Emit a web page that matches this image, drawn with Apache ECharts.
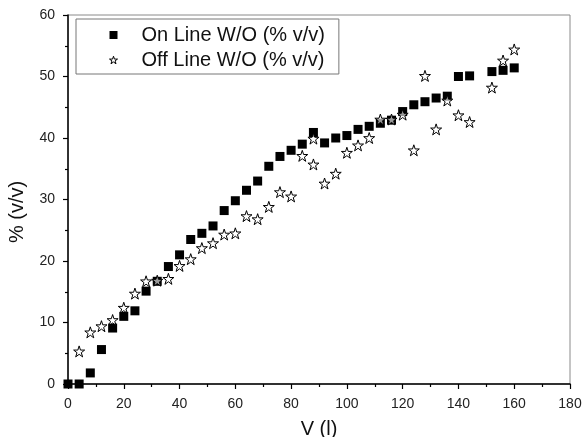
<!DOCTYPE html>
<html>
<head>
<meta charset="utf-8">
<script src="https://cdn.jsdelivr.net/npm/echarts@6/dist/echarts.min.js"></script>
<style>
  html, body { margin: 0; padding: 0; background: #fff; }
  #chart { width: 584px; height: 437px; }
</style>
</head>
<body>
<div id="chart"></div>
<script>
// Volume (l) and water-in-oil fraction (% v/v)
const onLineV = [0, 4, 8, 12, 16, 20, 24, 28, 32, 36, 40, 44, 48, 52, 56, 60, 64, 68, 72, 76, 80, 84, 88, 92, 96, 100, 104, 108, 112, 116, 120, 124, 128, 132, 136, 140, 144, 152, 156, 160];
const onLineWO = [0, 0, 1.8, 5.6, 9.1, 11.0, 11.9, 15.1, 16.7, 19.1, 21.0, 23.5, 24.5, 25.7, 28.2, 29.8, 31.5, 33.0, 35.4, 37.0, 38.0, 39.0, 40.9, 39.2, 40.0, 40.4, 41.4, 41.9, 42.4, 42.9, 44.3, 45.4, 45.9, 46.5, 46.8, 50.0, 50.1, 50.8, 51.0, 51.4];

const offLineV = [4, 8, 12, 16, 20, 24, 28, 32, 36, 40, 44, 48, 52, 56, 60, 64, 68, 72, 76, 80, 84, 88, 88, 92, 96, 100, 104, 108, 112, 116, 120, 124, 128, 132, 136, 140, 144, 152, 156, 160];
const offLineWO = [5.3, 8.4, 9.4, 10.4, 12.4, 14.7, 16.7, 16.8, 17.1, 19.2, 20.3, 22.1, 22.9, 24.3, 24.5, 27.3, 26.8, 28.8, 31.2, 30.5, 37.1, 39.9, 35.7, 32.6, 34.2, 37.6, 38.8, 40.0, 43.0, 43.0, 43.8, 38.0, 50.1, 41.4, 46.1, 43.7, 42.6, 48.2, 52.6, 54.4];

const seriesNames = ['On Line W/O (% v/v)', 'Off Line W/O (% v/v)'];
const xTicks = { min: 0, max: 180, step: 20 };
const yTicks = { min: 0, max: 60, step: 10 };

const STAR = 'path://M50,0 L61.8,35.1 L98.9,35.1 L69.1,57.3 L80.9,92.7 L50,70.9 L19.1,92.7 L30.9,57.3 L1.1,35.1 L38.2,35.1 Z';
const FONT = 'Liberation Sans, Arial, sans-serif';

const pairs = (xs, ys) => xs.map((x, i) => [x, ys[i]]);

const chart = echarts.init(document.getElementById('chart'), null, { renderer: 'canvas' });

const axisCommon = {
  axisLine: { show: true, onZero: false, lineStyle: { color: '#000', width: 1.5 } },
  axisTick: { show: true, inside: false, length: 5, lineStyle: { color: '#000', width: 1.2 } },
  minorTick: { show: true, splitNumber: 2, length: 3, lineStyle: { color: '#000', width: 1.2 } },
  splitLine: { show: false },
  axisLabel: { color: '#222', fontSize: 14, fontFamily: FONT },
  nameTextStyle: { color: '#111', fontSize: 20, fontFamily: FONT }
};

chart.setOption({
  backgroundColor: '#fff',
  animation: false,
  grid: {
    left: 68, right: 14, top: 15, bottom: 53,
    outerBoundsMode: 'none',
    containLabel: false,
    show: true, borderColor: '#8a8a8a', borderWidth: 1, backgroundColor: 'transparent'
  },
  legend: {
    orient: 'vertical',
    left: 76, top: 19,
    padding: [6, 14, 4, 33],
    itemGap: 5,
    itemWidth: 8, itemHeight: 8,
    borderColor: '#777', borderWidth: 1,
    backgroundColor: '#fff',
    textStyle: { color: '#111', fontSize: 20, fontFamily: FONT, lineHeight: 20, padding: [0, 0, 0, 19] },
    data: [
      { name: seriesNames[0], icon: 'rect' },
      { name: seriesNames[1], icon: STAR, itemStyle: { color: '#fff', borderColor: '#000', borderWidth: 1 } }
    ]
  },
  xAxis: Object.assign({}, axisCommon, {
    type: 'value',
    min: xTicks.min, max: xTicks.max, interval: xTicks.step,
    name: 'V (l)', nameLocation: 'middle', nameGap: 35,
    axisLabel: Object.assign({}, axisCommon.axisLabel, { margin: 13 })
  }),
  yAxis: Object.assign({}, axisCommon, {
    type: 'value',
    min: yTicks.min, max: yTicks.max, interval: yTicks.step,
    name: '% (v/v)', nameLocation: 'middle', nameGap: 41,
    nameTextStyle: Object.assign({}, axisCommon.nameTextStyle, { padding: [0, 25, 0, 0] }),
    axisLabel: Object.assign({}, axisCommon.axisLabel, { margin: 13 })
  }),
  series: [
    {
      name: seriesNames[0],
      type: 'scatter',
      symbol: 'rect',
      symbolSize: 9,
      itemStyle: { color: '#000', opacity: 1 },
      data: pairs(onLineV, onLineWO),
      z: 2
    },
    {
      name: seriesNames[1],
      type: 'scatter',
      symbol: STAR,
      symbolSize: 11,
      itemStyle: { color: 'rgba(255,255,255,0.6)', borderColor: '#000', borderWidth: 1, opacity: 1 },
      data: pairs(offLineV, offLineWO),
      z: 3
    }
  ]
});
</script>
</body>
</html>
